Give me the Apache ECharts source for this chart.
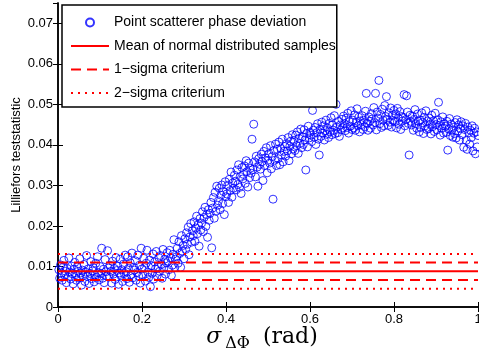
<!DOCTYPE html>
<html><head><meta charset="utf-8">
<script src="https://cdn.jsdelivr.net/npm/echarts@6/dist/echarts.min.js"></script>
<style>html,body{margin:0;padding:0;background:#fff}#c{width:479px;height:349px}</style>
</head><body><div id="c"></div>
<script>
// x values: sigma of phase deviation (rad)
const sigmaDeltaPhi = [
0.002,0.004,0.006,0.008,0.010,0.012,0.014,0.016,0.018,0.020,
0.022,0.024,0.026,0.028,0.030,0.032,0.034,0.036,0.038,0.040,
0.042,0.044,0.046,0.048,0.050,0.052,0.054,0.056,0.058,0.060,
0.062,0.064,0.066,0.068,0.070,0.072,0.074,0.076,0.078,0.080,
0.082,0.084,0.086,0.088,0.090,0.092,0.094,0.096,0.098,0.100,
0.102,0.104,0.106,0.108,0.110,0.112,0.114,0.116,0.118,0.120,
0.122,0.124,0.126,0.128,0.130,0.132,0.134,0.136,0.138,0.140,
0.142,0.144,0.146,0.148,0.150,0.152,0.154,0.156,0.158,0.160,
0.162,0.164,0.166,0.168,0.170,0.172,0.174,0.176,0.178,0.180,
0.182,0.184,0.186,0.188,0.190,0.192,0.194,0.196,0.198,0.200,
0.202,0.204,0.206,0.208,0.210,0.212,0.214,0.216,0.218,0.220,
0.222,0.224,0.226,0.228,0.230,0.232,0.234,0.236,0.238,0.240,
0.242,0.244,0.246,0.248,0.250,0.252,0.254,0.256,0.258,0.260,
0.262,0.264,0.266,0.268,0.270,0.272,0.274,0.276,0.278,0.280,
0.282,0.284,0.286,0.288,0.290,0.292,0.294,0.296,0.298,0.300,
0.302,0.304,0.306,0.308,0.310,0.312,0.314,0.316,0.318,0.320,
0.322,0.324,0.326,0.328,0.330,0.332,0.334,0.336,0.338,0.340,
0.342,0.344,0.346,0.348,0.350,0.352,0.354,0.356,0.358,0.360,
0.362,0.364,0.366,0.368,0.370,0.372,0.374,0.376,0.378,0.380,
0.382,0.384,0.386,0.388,0.390,0.392,0.394,0.396,0.398,0.400,
0.402,0.404,0.406,0.408,0.410,0.412,0.414,0.416,0.418,0.420,
0.422,0.424,0.426,0.428,0.430,0.432,0.434,0.436,0.438,0.440,
0.442,0.444,0.446,0.448,0.450,0.452,0.454,0.456,0.458,0.460,
0.462,0.464,0.466,0.468,0.470,0.472,0.474,0.476,0.478,0.480,
0.482,0.484,0.486,0.488,0.490,0.492,0.494,0.496,0.498,0.500,
0.502,0.504,0.506,0.508,0.510,0.512,0.514,0.516,0.518,0.520,
0.522,0.524,0.526,0.528,0.530,0.532,0.534,0.536,0.538,0.540,
0.542,0.544,0.546,0.548,0.550,0.552,0.554,0.556,0.558,0.560,
0.562,0.564,0.566,0.568,0.570,0.572,0.574,0.576,0.578,0.580,
0.582,0.584,0.586,0.588,0.590,0.592,0.594,0.596,0.598,0.600,
0.602,0.604,0.606,0.608,0.610,0.612,0.614,0.616,0.618,0.620,
0.622,0.624,0.626,0.628,0.630,0.632,0.634,0.636,0.638,0.640,
0.642,0.644,0.646,0.648,0.650,0.652,0.654,0.656,0.658,0.660,
0.662,0.664,0.666,0.668,0.670,0.672,0.674,0.676,0.678,0.680,
0.682,0.684,0.686,0.688,0.690,0.692,0.694,0.696,0.698,0.700,
0.702,0.704,0.706,0.708,0.710,0.712,0.714,0.716,0.718,0.720,
0.722,0.724,0.726,0.728,0.730,0.732,0.734,0.736,0.738,0.740,
0.742,0.744,0.746,0.748,0.750,0.752,0.754,0.756,0.758,0.760,
0.762,0.764,0.766,0.768,0.770,0.772,0.774,0.776,0.778,0.780,
0.782,0.784,0.786,0.788,0.790,0.792,0.794,0.796,0.798,0.800,
0.802,0.804,0.806,0.808,0.810,0.812,0.814,0.816,0.818,0.820,
0.822,0.824,0.826,0.828,0.830,0.832,0.834,0.836,0.838,0.840,
0.842,0.844,0.846,0.848,0.850,0.852,0.854,0.856,0.858,0.860,
0.862,0.864,0.866,0.868,0.870,0.872,0.874,0.876,0.878,0.880,
0.882,0.884,0.886,0.888,0.890,0.892,0.894,0.896,0.898,0.900,
0.902,0.904,0.906,0.908,0.910,0.912,0.914,0.916,0.918,0.920,
0.922,0.924,0.926,0.928,0.930,0.932,0.934,0.936,0.938,0.940,
0.942,0.944,0.946,0.948,0.950,0.952,0.954,0.956,0.958,0.960,
0.962,0.964,0.966,0.968,0.970,0.972,0.974,0.976,0.978,0.980,
0.982,0.984,0.986,0.988,0.990,0.992,0.994,0.996,0.998,1.000
];
// y values: Lilliefors test statistic of the point scatterer phase deviation
const lillieforsStat = [
0.0092,0.0071,0.0104,0.0083,0.0066,0.0098,0.0115,0.0078,0.0088,0.0060,
0.0095,0.0074,0.0121,0.0086,0.0069,0.0101,0.0082,0.0057,0.0093,0.0110,
0.0080,0.0066,0.0099,0.0088,0.0072,0.0119,0.0084,0.0054,0.0091,0.0077,
0.0105,0.0063,0.0086,0.0127,0.0075,0.0094,0.0058,0.0083,0.0112,0.0070,
0.0089,0.0097,0.0062,0.0079,0.0108,0.0073,0.0124,0.0085,0.0067,0.0100,
0.0082,0.0145,0.0071,0.0093,0.0060,0.0117,0.0087,0.0076,0.0139,0.0096,
0.0074,0.0103,0.0088,0.0059,0.0113,0.0081,0.0095,0.0068,0.0122,0.0090,
0.0101,0.0056,0.0084,0.0118,0.0077,0.0092,0.0063,0.0106,0.0083,0.0128,
0.0087,0.0070,0.0124,0.0095,0.0061,0.0109,0.0080,0.0133,0.0072,0.0098,
0.0091,0.0114,0.0066,0.0085,0.0128,0.0076,0.0103,0.0059,0.0145,0.0094,
0.0079,0.0120,0.0097,0.0064,0.0108,0.0140,0.0086,0.0073,0.0116,0.0050,
0.0102,0.0083,0.0131,0.0069,0.0111,0.0094,0.0137,0.0077,0.0099,0.0122,
0.0088,0.0127,0.0105,0.0071,0.0142,0.0096,0.0118,0.0081,0.0109,0.0134,
0.0113,0.0092,0.0140,0.0121,0.0078,0.0103,0.0130,0.0166,0.0097,0.0118,
0.0124,0.0145,0.0108,0.0161,0.0132,0.0098,0.0176,0.0138,0.0152,0.0119,
0.0168,0.0142,0.0183,0.0155,0.0197,0.0129,0.0173,0.0206,0.0160,0.0188,
0.0176,0.0210,0.0162,0.0195,0.0224,0.0181,0.0203,0.0150,0.0218,0.0190,
0.0207,0.0235,0.0186,0.0221,0.0246,0.0199,0.0228,0.0172,0.0240,0.0214,
0.0231,0.0258,0.0146,0.0244,0.0270,0.0219,0.0283,0.0236,0.0298,0.0251,
0.0262,0.0293,0.0240,0.0276,0.0301,0.0255,0.0285,0.0228,0.0309,0.0272,
0.0279,0.0300,0.0258,0.0315,0.0287,0.0333,0.0271,0.0306,0.0293,0.0325,
0.0310,0.0289,0.0338,0.0302,0.0351,0.0295,0.0322,0.0280,0.0344,0.0316,
0.0327,0.0348,0.0305,0.0361,0.0334,0.0296,0.0355,0.0319,0.0342,0.0330,
0.0414,0.0339,0.0451,0.0358,0.0321,0.0372,0.0345,0.0298,0.0366,0.0352,
0.0340,0.0377,0.0359,0.0312,0.0384,0.0349,0.0368,0.0393,0.0331,0.0362,
0.0378,0.0355,0.0398,0.0341,0.0371,0.0266,0.0386,0.0362,0.0402,0.0349,
0.0389,0.0366,0.0407,0.0351,0.0392,0.0375,0.0414,0.0358,0.0384,0.0396,
0.0372,0.0403,0.0385,0.0418,0.0361,0.0397,0.0409,0.0378,0.0425,0.0390,
0.0411,0.0386,0.0424,0.0398,0.0432,0.0379,0.0416,0.0404,0.0439,0.0393,
0.0420,0.0401,0.0437,0.0412,0.0338,0.0428,0.0395,0.0446,0.0417,0.0431,
0.0424,0.0408,0.0485,0.0436,0.0419,0.0443,0.0401,0.0430,0.0452,0.0414,
0.0375,0.0438,0.0421,0.0456,0.0429,0.0447,0.0412,0.0435,0.0461,0.0426,
0.0441,0.0418,0.0453,0.0432,0.0467,0.0425,0.0449,0.0436,0.0472,0.0428,
0.0500,0.0444,0.0430,0.0458,0.0421,0.0449,0.0437,0.0463,0.0442,0.0471,
0.0452,0.0435,0.0466,0.0443,0.0478,0.0429,0.0457,0.0446,0.0484,0.0438,
0.0461,0.0442,0.0474,0.0436,0.0455,0.0489,0.0447,0.0468,0.0432,0.0459,
0.0450,0.0472,0.0438,0.0461,0.0445,0.0483,0.0527,0.0453,0.0436,0.0469,
0.0458,0.0441,0.0477,0.0464,0.0449,0.0492,0.0455,0.0527,0.0437,0.0481,
0.0466,0.0559,0.0452,0.0475,0.0443,0.0488,0.0461,0.0447,0.0497,0.0470,
0.0519,0.0463,0.0448,0.0479,0.0456,0.0491,0.0444,0.0472,0.0460,0.0485,
0.0457,0.0476,0.0442,0.0490,0.0466,0.0451,0.0482,0.0438,0.0470,0.0459,
0.0468,0.0524,0.0447,0.0462,0.0521,0.0481,0.0453,0.0375,0.0473,0.0458,
0.0449,0.0471,0.0436,0.0463,0.0487,0.0452,0.0441,0.0476,0.0458,0.0432,
0.0461,0.0443,0.0479,0.0455,0.0428,0.0468,0.0447,0.0484,0.0438,0.0459,
0.0440,0.0466,0.0451,0.0427,0.0473,0.0445,0.0459,0.0433,0.0478,0.0450,
0.0437,0.0462,0.0505,0.0448,0.0424,0.0457,0.0441,0.0469,0.0429,0.0452,
0.0446,0.0431,0.0458,0.0387,0.0439,0.0465,0.0423,0.0451,0.0436,0.0419,
0.0443,0.0428,0.0455,0.0417,0.0462,0.0434,0.0449,0.0412,0.0440,0.0457,
0.0425,0.0447,0.0394,0.0438,0.0453,0.0411,0.0389,0.0444,0.0430,0.0402,
0.0436,0.0418,0.0447,0.0385,0.0429,0.0441,0.0378,0.0432,0.0395,0.0423
];
// reference levels from normally distributed samples
const lineX = [0, 1];
const meanLevel = 0.0088;
const sigma1Levels = [0.00665, 0.01095];
const sigma2Levels = [0.0045, 0.0131];
// axes ticks
const xTicks = [0, 0.2, 0.4, 0.6, 0.8, 1];
const yTicks = [0, 0.01, 0.02, 0.03, 0.04, 0.05, 0.06, 0.07];
const yMax = 0.075;

const names = ['Point scatterer phase deviation', 'Mean of normal distributed samples', '1\u2212sigma criterium', '2\u2212sigma criterium'];

const scatterData = sigmaDeltaPhi.map((x, i) => [x, lillieforsStat[i]]);
const hLine = v => lineX.map(x => [x, v]);

const FONT = 'Liberation Sans, Arial, sans-serif';
const baseAxis = {
  type: 'value', splitLine: {show: false}, nameMoveOverlap: false,
  axisLine: {lineStyle: {color: '#000', width: 1.5}},
  axisTick: {inside: true, length: 5, lineStyle: {color: '#000', width: 1}}
};
const xInterval = xTicks[1] - xTicks[0];
const yInterval = yTicks[1] - yTicks[0];

const lineSeries = (name, v, type) => ({
  type: 'line', name, data: hLine(v), symbol: 'none', silent: true,
  itemStyle: {color: 'rgba(0,0,0,0)', borderWidth: 0},
  lineStyle: {color: '#ff0000', width: 2, type}
});

const chart = echarts.init(document.getElementById('c'), null, {renderer: 'canvas'});
chart.setOption({
  animation: false,
  backgroundColor: '#fff',
  grid: {left: 58, right: 1, top: 3, bottom: 42, outerBoundsMode: 'none', containLabel: false},
  legend: {
    orient: 'vertical', left: 62, top: 5, selectedMode: false,
    backgroundColor: '#fff', borderColor: '#000', borderWidth: 1.5, borderRadius: 0,
    padding: [10.5, 1, 7, 8], itemWidth: 38, itemHeight: 8, itemGap: 9.5,
    textStyle: {fontFamily: FONT, fontSize: 14, color: '#000'},
    data: names
  },
  xAxis: [
    Object.assign({}, baseAxis, {
      position: 'bottom', min: xTicks[0], max: xTicks[xTicks.length - 1], interval: xInterval,
      axisLabel: {color: '#000', fontFamily: FONT, fontSize: 13, margin: 6},
      name: '{s|σ}{sub|ΔΦ}{r|(rad)}', nameLocation: 'middle', nameGap: 19,
      nameTextStyle: {
        color: '#000',
        rich: {
          s: {fontFamily: 'DejaVu Serif', fontStyle: 'italic', fontSize: 22, color: '#000', verticalAlign: 'bottom', padding: [0, 2, 4, 0]},
          sub: {fontFamily: 'DejaVu Serif', fontSize: 16, color: '#000', verticalAlign: 'bottom', padding: [0, 13, 0, 2]},
          r: {fontFamily: 'DejaVu Serif', fontSize: 22, color: '#000', verticalAlign: 'bottom', padding: [0, 12, 4, 0]}
        }
      }
    }),
    Object.assign({}, baseAxis, {
      position: 'top', min: xTicks[0], max: xTicks[xTicks.length - 1], interval: xInterval,
      axisLabel: {show: false}
    })
  ],
  yAxis: [
    Object.assign({}, baseAxis, {
      position: 'left', min: yTicks[0], max: yMax, interval: yInterval,
      axisLabel: {color: '#000', fontFamily: FONT, fontSize: 13, margin: 5, showMaxLabel: false},
      name: 'Lilliefors teststatistic', nameLocation: 'middle', nameGap: 35,
      nameTextStyle: {color: '#000', fontFamily: FONT, fontSize: 13}
    }),
    Object.assign({}, baseAxis, {
      position: 'right', min: yTicks[0], max: yMax, interval: yInterval,
      axisLabel: {show: false}
    })
  ],
  series: [
    {
      type: 'scatter', name: names[0], data: scatterData, symbol: 'circle', symbolSize: 8,
      itemStyle: {color: 'rgba(0,0,0,0)', borderColor: '#0000ff', borderWidth: 1}
    },
    lineSeries(names[1], meanLevel, 'solid'),
    lineSeries(names[2], sigma1Levels[0], [10, 6]),
    lineSeries(names[2], sigma1Levels[1], [10, 6]),
    lineSeries(names[3], sigma2Levels[0], [2, 5]),
    lineSeries(names[3], sigma2Levels[1], [2, 5])
  ]
});
</script></body></html>
